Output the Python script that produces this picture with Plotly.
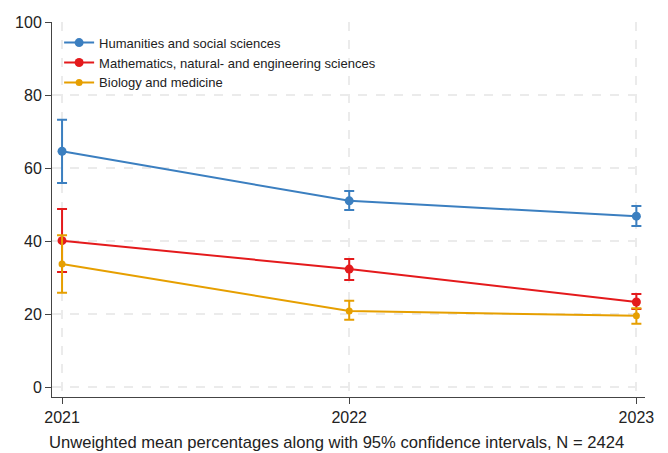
import plotly.graph_objects as go

years = [2021, 2022, 2023]

series_names = [
    "Humanities and social sciences",
    "Mathematics, natural- and engineering sciences",
    "Biology and medicine",
]
hum_mean = [64.6, 51.0, 46.8]
hum_lo = [55.9, 48.5, 44.1]
hum_hi = [73.2, 53.7, 49.6]

math_mean = [40.1, 32.3, 23.3]
math_lo = [31.5, 29.3, 21.4]
math_hi = [48.8, 35.1, 25.5]

bio_mean = [33.7, 20.8, 19.5]
bio_lo = [25.8, 18.4, 17.3]
bio_hi = [41.6, 23.6, 21.6]

colors = ["#3b7fc0", "#e41a1c", "#e69f00"]
marker_sizes = [9, 9, 7]

y_ticks = [0, 20, 40, 60, 80, 100]

fig = go.Figure()

for name, mean, lo, hi, col, ms in zip(
    series_names,
    [hum_mean, math_mean, bio_mean],
    [hum_lo, math_lo, bio_lo],
    [hum_hi, math_hi, bio_hi],
    colors,
    marker_sizes,
):
    fig.add_trace(go.Scatter(
        x=years, y=mean, name=name, mode="lines+markers",
        line=dict(color=col, width=2),
        marker=dict(color=col, size=ms),
        error_y=dict(
            type="data", symmetric=False,
            array=[h - m for h, m in zip(hi, mean)],
            arrayminus=[m - l for m, l in zip(mean, lo)],
            color=col, thickness=2, width=5,
        ),
    ))

fig.add_annotation(
    text="Unweighted mean percentages along with 95% confidence intervals, N = 2424",
    xref="paper", yref="paper", x=0.479, y=0, yshift=-35, xanchor="center", yanchor="top",
    showarrow=False, font=dict(size=16.6, color="#222"), borderpad=0,
)

fig.update_layout(
    width=668, height=453,
    margin=dict(l=52, r=23, t=22, b=56),
    plot_bgcolor="white", paper_bgcolor="white",
    font=dict(family="Liberation Sans, Arial, sans-serif", color="#222"),
    showlegend=True,
    legend=dict(
        x=0.012, y=0.985, xanchor="left", yanchor="top",
        bgcolor="rgba(255,255,255,0)", font=dict(size=13, color="#222"),
        itemwidth=30, tracegroupgap=0,
    ),
    xaxis=dict(
        range=[2020.965, 2023.03],
        tickvals=years, ticktext=[str(y) for y in years],
        tickfont=dict(size=16),
        showline=True, linecolor="#444", linewidth=1,
        ticks="outside", ticklen=6, tickcolor="#444",
        showgrid=True, gridcolor="#ebebeb", griddash="dash", gridwidth=1.5,
        zeroline=False, automargin=False,
    ),
    yaxis=dict(
        range=[-2.74, 100],
        tickvals=y_ticks,
        tickfont=dict(size=16),
        showline=True, linecolor="#444", linewidth=1,
        ticks="outside", ticklen=6, tickcolor="#444",
        showgrid=True, gridcolor="#ebebeb", griddash="dash", gridwidth=1.5,
        zeroline=False, automargin=False,
    ),
)

fig.write_html("out.html")
